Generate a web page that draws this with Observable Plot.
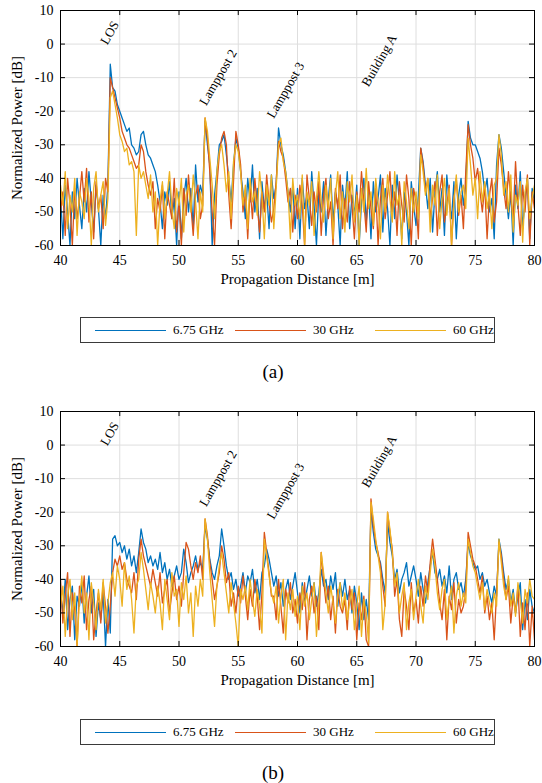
<!DOCTYPE html>
<html><head><meta charset="utf-8">
<script src="https://cdn.jsdelivr.net/npm/d3@7"></script>
<script src="https://cdn.jsdelivr.net/npm/@observablehq/plot@0.6"></script>
<style>
body{margin:0;background:#fff;}
#page{position:relative;width:542px;height:783px;background:#fff;font-family:"Liberation Serif","Times New Roman",serif;color:#000;overflow:hidden}
.panel{position:absolute;left:0}
.legend{position:absolute;left:80px;width:415px;height:26px;box-sizing:border-box;border:1px solid #3a3a3a;background:#fff}
.item{position:absolute;top:0;height:24px;display:flex;align-items:center;font-size:13px;white-space:nowrap}
.swatch{display:inline-block;width:71px;height:0;border-top:1.3px solid;margin-right:7px}
.caption{position:absolute;font-size:19px;transform:translate(-50%,-50%)}
</style></head><body><div id="page"></div><script>
// ---- data ----
const seriesNames = ["6.75 GHz", "30 GHz", "60 GHz"];
const seriesColors = ["#0072BD", "#D95319", "#EDB120"];
const xTicks = [40, 45, 50, 55, 60, 65, 70, 75, 80];
const yTicks = [-60, -50, -40, -30, -20, -10, 0, 10];
const xLabel = "Propagation Distance [m]";
const yLabel = "Normalized Power [dB]";
const captions = ["(a)", "(b)"];
const annotations = [
  {x: 43.94, y: -0.4, label: "LOS"},
  {x: 52.3, y: -18.5, label: "Lamppost 2"},
  {x: 58.0, y: -22.3, label: "Lamppost 3"},
  {x: 66.0, y: -12.9, label: "Building A"}
];
// sampling grid: 40 m to 80 m every 0.2 m (201 samples)
const distance = d3.range(201).map(i => 40 + i * 0.2);

// (a) series
const a675 = [
-45,-58,-42,-50,-60,-44,-52,-40,-48,-55,
-43,-50,-38,-47,-56,-42,-49,-60,-45,-52,
-42,-6,-13,-14,-18,-20,-22,-24,-26,-25,
-30,-31,-33,-32,-27,-26,-30,-33,-34,-36,
-38,-42,-47,-55,-44,-48,-41,-52,-46,-60,
-44,-58,-46,-40,-50,-43,-55,-36,-47,-42,
-45,-23,-30,-36,-60,-45,-38,-30,-29,-27,
-33,-40,-47,-36,-28,-31,-38,-44,-52,-40,
-47,-36,-50,-43,-58,-41,-49,-44,-55,-39,
-46,-42,-25,-30,-33,-38,-44,-50,-42,-55,
-43,-58,-40,-49,-45,-55,-38,-48,-60,-44,
-50,-41,-57,-46,-39,-53,-44,-48,-60,-42,
-49,-38,-55,-45,-51,-42,-60,-47,-40,-53,
-44,-58,-41,-50,-46,-39,-56,-43,-49,-60,
-42,-52,-39,-47,-58,-44,-50,-60,-41,-48,
-54,-45,-31,-35,-42,-49,-40,-56,-44,-38,
-50,-43,-57,-39,-47,-52,-41,-58,-45,-40,
-48,-42,-23,-28,-30,-30,-32,-34,-38,-44,
-40,-50,-46,-58,-36,-27,-31,-38,-45,-52,
-44,-60,-42,-49,-38,-55,-46,-40,-58,-43,
-47];
const a30 = [
-50,-44,-57,-40,-48,-60,-43,-52,-46,-38,
-47,-37,-53,-44,-58,-41,-49,-45,-55,-40,
-44,-10,-13,-16,-19,-22,-26,-28,-30,-31,
-33,-35,-37,-36,-30,-32,-38,-42,-45,-41,
-55,-46,-50,-42,-58,-44,-48,-52,-40,-56,
-47,-60,-43,-51,-39,-48,-57,-45,-42,-52,
-48,-22,-28,-38,-50,-60,-42,-33,-28,-26,
-30,-45,-55,-41,-26,-30,-36,-50,-44,-58,
-43,-52,-40,-48,-56,-44,-50,-39,-47,-53,
-49,-41,-29,-32,-34,-40,-47,-43,-56,-45,
-52,-42,-48,-60,-39,-46,-54,-44,-50,-41,
-57,-45,-40,-52,-47,-60,-43,-49,-39,-55,
-46,-53,-41,-48,-58,-44,-50,-38,-47,-56,
-41,-49,-55,-43,-60,-46,-40,-52,-45,-38,
-50,-44,-57,-41,-48,-53,-39,-46,-60,-43,
-47,-58,-31,-36,-44,-40,-52,-46,-41,-57,
-44,-39,-53,-48,-42,-60,-46,-40,-51,-45,
-55,-38,-24,-30,-34,-41,-37,-44,-50,-42,
-58,-45,-40,-53,-47,-31,-36,-43,-49,-38,
-46,-52,-35,-48,-57,-42,-50,-39,-60,-44,
-49];
const a60 = [
-42,-48,-38,-55,-45,-50,-40,-57,-44,-47,
-52,-40,-46,-60,-43,-38,-50,-45,-41,-54,
-46,-16,-14,-18,-22,-27,-29,-32,-31,-36,
-35,-38,-57,-36,-40,-38,-42,-46,-39,-50,
-44,-60,-47,-41,-52,-45,-38,-49,-55,-43,
-48,-40,-56,-45,-42,-50,-39,-47,-58,-44,
-50,-22,-26,-34,-42,-52,-38,-32,-30,-36,
-44,-38,-52,-35,-30,-32,-38,-48,-42,-55,
-40,-47,-44,-51,-38,-45,-58,-42,-48,-39,
-55,-43,-30,-28,-35,-38,-44,-58,-40,-48,
-45,-52,-39,-60,-44,-48,-41,-57,-46,-38,
-47,-53,-42,-49,-40,-58,-45,-38,-52,-44,
-56,-41,-47,-39,-53,-45,-60,-43,-50,-37,
-49,-44,-54,-40,-47,-58,-42,-50,-39,-46,
-53,-38,-48,-45,-60,-41,-47,-55,-43,-50,
-44,-52,-33,-38,-45,-40,-56,-42,-48,-39,
-55,-46,-40,-51,-43,-60,-47,-39,-50,-44,
-42,-49,-28,-36,-45,-40,-52,-38,-47,-41,
-49,-44,-55,-42,-40,-27,-33,-45,-41,-50,
-39,-56,-45,-48,-41,-59,-44,-40,-52,-46,
-42];
// (b) series
const b675 = [
-44,-50,-40,-55,-46,-42,-58,-45,-48,-41,
-53,-45,-39,-50,-43,-57,-47,-52,-44,-60,
-46,-56,-28,-27,-30,-29,-32,-30,-34,-31,
-36,-33,-38,-32,-25,-29,-31,-35,-33,-36,
-34,-37,-32,-38,-35,-40,-37,-42,-39,-36,
-40,-38,-31,-35,-41,-38,-36,-33,-37,-35,
-37,-24,-28,-34,-38,-40,-36,-33,-25,-30,
-36,-40,-38,-43,-40,-45,-42,-38,-44,-39,
-41,-37,-44,-40,-46,-38,-36,-31,-34,-38,
-42,-39,-45,-41,-48,-43,-40,-46,-42,-38,
-44,-50,-41,-47,-43,-39,-45,-41,-48,-44,
-37,-42,-40,-46,-39,-43,-38,-48,-41,-45,
-40,-46,-43,-50,-42,-47,-55,-44,-52,-46,
-52,-19,-26,-31,-33,-35,-40,-44,-23,-29,
-33,-40,-37,-44,-40,-38,-35,-42,-39,-36,
-40,-45,-38,-43,-47,-41,-36,-32,-38,-40,
-37,-42,-39,-44,-36,-46,-40,-38,-43,-41,
-45,-40,-29,-33,-35,-37,-36,-40,-38,-42,
-40,-44,-47,-42,-45,-28,-32,-38,-43,-40,
-47,-43,-50,-45,-41,-55,-46,-52,-43,-48,
-50];
const b30 = [
-40,-53,-45,-38,-57,-44,-49,-60,-42,-47,
-39,-55,-46,-42,-58,-50,-44,-53,-41,-48,
-56,-48,-38,-34,-36,-33,-37,-35,-40,-42,
-44,-38,-46,-34,-28,-33,-36,-39,-42,-37,
-41,-45,-38,-47,-43,-40,-50,-44,-39,-46,
-42,-48,-38,-29,-31,-36,-40,-35,-38,-33,
-40,-22,-27,-35,-40,-46,-42,-38,-30,-34,
-41,-38,-48,-44,-50,-42,-47,-39,-45,-52,
-43,-48,-40,-45,-55,-44,-26,-32,-38,-45,
-45,-52,-40,-48,-56,-43,-47,-41,-50,-46,
-53,-44,-49,-41,-58,-46,-42,-50,-45,-55,
-32,-40,-47,-42,-52,-45,-56,-43,-48,-50,
-46,-55,-42,-49,-44,-58,-47,-52,-45,-58,
-60,-16,-24,-29,-32,-36,-42,-48,-20,-26,
-31,-45,-40,-52,-57,-43,-48,-55,-41,-50,
-46,-53,-42,-48,-39,-44,-35,-28,-34,-40,
-47,-52,-43,-58,-45,-49,-41,-53,-46,-50,
-48,-43,-26,-30,-34,-36,-40,-44,-39,-50,
-45,-52,-47,-58,-44,-29,-33,-40,-46,-42,
-53,-45,-50,-42,-57,-47,-55,-44,-60,-48,
-58];
const b60 = [
-48,-42,-57,-45,-40,-52,-44,-60,-46,-39,
-50,-44,-58,-41,-47,-55,-43,-49,-40,-53,
-47,-41,-38,-45,-36,-40,-48,-35,-43,-39,
-46,-56,-42,-40,-32,-37,-43,-49,-41,-45,
-50,-42,-47,-55,-40,-46,-52,-38,-45,-43,
-54,-41,-46,-39,-50,-44,-57,-42,-48,-40,
-45,-22,-28,-38,-46,-54,-42,-36,-32,-38,
-44,-50,-41,-47,-53,-60,-43,-46,-42,-49,
-40,-46,-51,-43,-48,-56,-28,-33,-39,-44,
-47,-42,-53,-45,-40,-58,-44,-49,-43,-51,
-45,-55,-42,-48,-44,-52,-46,-41,-57,-47,
-32,-38,-44,-50,-42,-47,-53,-45,-41,-49,
-44,-52,-47,-43,-55,-48,-42,-57,-46,-50,
-59,-17,-22,-28,-33,-38,-55,-47,-20,-25,
-32,-42,-38,-50,-45,-41,-55,-47,-43,-52,
-45,-40,-48,-53,-42,-46,-38,-31,-36,-44,
-49,-43,-40,-52,-46,-42,-56,-45,-41,-48,
-44,-47,-28,-32,-36,-38,-42,-46,-41,-49,
-43,-47,-50,-44,-48,-28,-35,-42,-46,-39,
-48,-44,-51,-41,-46,-53,-43,-47,-40,-45,
-46];

const panels = [
  {values: [a675, a30, a60], top: 0, legendTop: 317, captionY: 372},
  {values: [b675, b30, b60], top: 401, legendTop: 719, captionY: 773}
];

const FONT = '"Liberation Serif","Times New Roman",serif';
const page = document.getElementById("page");

function makePanel(values) {
  const rows = [];
  seriesNames.forEach((name, k) => values[k].forEach((v, i) => rows.push({d: distance[i], p: v, s: name})));
  return Plot.plot({
    width: 542, height: 292,
    marginLeft: 60, marginRight: 8, marginTop: 10, marginBottom: 47,
    style: {fontFamily: FONT, fontSize: "14px", background: "transparent", color: "#000", overflow: "visible"},
    x: {domain: [40, 80], label: null},
    y: {domain: [-60, 10], label: null},
    color: {domain: seriesNames, range: seriesColors},
    marks: [
      Plot.ruleX(xTicks, {stroke: "#dedede", strokeWidth: 1}),
      Plot.ruleY(yTicks, {stroke: "#dedede", strokeWidth: 1}),
      Plot.line(rows, {x: "d", y: "p", z: "s", stroke: "s", strokeWidth: 1.3, clip: true}),
      Plot.text(annotations, {x: "x", y: "y", text: "label", rotate: -60, textAnchor: "start", lineAnchor: "bottom", fontSize: 13, fill: "#000"}),
      Plot.ruleX(xTicks, {y1: -60, y2: -58.5, stroke: "#000"}),
      Plot.ruleX(xTicks, {y1: 10, y2: 8.5, stroke: "#000"}),
      Plot.ruleY(yTicks, {x1: 40, x2: 40.42, stroke: "#000"}),
      Plot.ruleY(yTicks, {x1: 80, x2: 79.58, stroke: "#000"}),
      Plot.frame({stroke: "#000", strokeWidth: 1}),
      Plot.axisX(xTicks, {tickSize: 0, tickPadding: 10, fontSize: 14, label: null, tickFormat: d => String(d)}),
      Plot.axisY(yTicks, {tickSize: 0, tickPadding: 7, fontSize: 14, label: null, tickFormat: d => String(d)}),
      Plot.text([xLabel], {frameAnchor: "bottom", dy: 38, fontSize: 15, fill: "#000"}),
      Plot.text([yLabel], {frameAnchor: "left", rotate: -90, textAnchor: "middle", dx: -43, fontSize: 15, fill: "#000"})
    ]
  });
}

panels.forEach((p, idx) => {
  const svg = makePanel(p.values);
  const holder = document.createElement("div");
  holder.className = "panel";
  holder.style.top = p.top + "px";
  holder.appendChild(svg);
  page.appendChild(holder);

  const legend = document.createElement("div");
  legend.className = "legend";
  legend.style.top = p.legendTop + "px";
  seriesNames.forEach((name, k) => {
    const item = document.createElement("div");
    item.className = "item";
    item.style.left = (14 + 140 * k) + "px";
    const sw = document.createElement("span");
    sw.className = "swatch";
    sw.style.borderTopColor = seriesColors[k];
    item.appendChild(sw);
    const t = document.createElement("span");
    t.textContent = name;
    item.appendChild(t);
    legend.appendChild(item);
  });
  page.appendChild(legend);

  const cap = document.createElement("div");
  cap.className = "caption";
  cap.style.left = "273px";
  cap.style.top = p.captionY + "px";
  cap.textContent = captions[idx];
  page.appendChild(cap);
});
</script></body></html>
